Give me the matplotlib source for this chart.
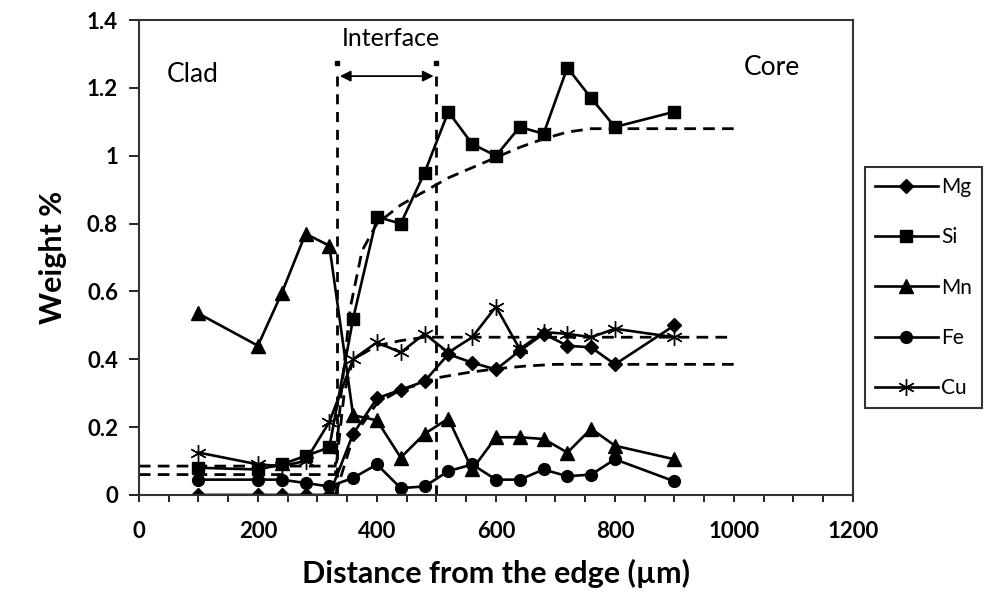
import numpy as np
import matplotlib.pyplot as plt
from matplotlib.ticker import MultipleLocator

plt.rcParams['font.family'] = ['Lato', 'DejaVu Sans']

# distance from the clad surface (um)
dist = [100, 200, 240, 280, 320, 360, 400, 440, 480, 520, 560, 600, 640, 680, 720, 760, 800, 900]

# measured concentrations, weight %
mg = [0.0, 0.0, 0.0, 0.0, 0.0, 0.18, 0.285, 0.31, 0.335, 0.415, 0.39, 0.37, 0.425, 0.475, 0.44, 0.435, 0.385, 0.50]
si = [0.08, 0.075, 0.09, 0.115, 0.14, 0.52, 0.82, 0.80, 0.95, 1.13, 1.035, 1.0, 1.085, 1.065, 1.26, 1.17, 1.085, 1.13]
mn = [0.535, 0.44, 0.595, 0.77, 0.735, 0.235, 0.22, 0.11, 0.18, 0.225, 0.075, 0.17, 0.17, 0.165, 0.125, 0.195, 0.145, 0.105]
fe = [0.045, 0.045, 0.045, 0.035, 0.025, 0.05, 0.09, 0.02, 0.025, 0.07, 0.09, 0.045, 0.045, 0.075, 0.055, 0.06, 0.105, 0.04]
cu = [0.125, 0.09, 0.085, 0.10, 0.215, 0.40, 0.45, 0.42, 0.475, 0.42, 0.465, 0.555, 0.43, 0.48, 0.475, 0.465, 0.49, 0.465]

# dashed profiles across the interface
si_fit_x = [0, 330, 340, 355, 375, 400, 440, 480, 520, 560, 600, 640, 680, 720, 760, 1000]
si_fit_y = [0.085, 0.085, 0.30, 0.55, 0.72, 0.80, 0.855, 0.895, 0.935, 0.965, 0.995, 1.025, 1.05, 1.07, 1.08, 1.08]
cu_fit_x = [0, 330, 345, 360, 400, 440, 480, 1000]
cu_fit_y = [0.06, 0.06, 0.30, 0.40, 0.44, 0.455, 0.465, 0.465]
mg_fit_x = [330, 360, 400, 440, 480, 500, 550, 600, 650, 700, 1000]
mg_fit_y = [0.0, 0.17, 0.27, 0.31, 0.33, 0.345, 0.36, 0.372, 0.38, 0.385, 0.385]

interface = [333, 500]

fig = plt.figure(figsize=(9.85, 6.11), dpi=100)
ax = fig.add_axes([0.141, 0.190, 0.725, 0.777])

dash = dict(color='k', lw=2, linestyle=(0, (4.2, 2.6)))
ax.plot(si_fit_x, si_fit_y, **dash)
ax.plot(cu_fit_x, cu_fit_y, **dash)
ax.plot(mg_fit_x, mg_fit_y, **dash)

# interface boundaries: dashed verticals with a dot on top
for xi in interface:
    ax.plot([xi, xi], [1.235, 0], color='k', lw=2, linestyle=(0, (3.6, 2.8)))
    ax.plot([xi], [1.275], marker='s', ms=2.5, color='k', ls='none')

ax.annotate('', xy=(interface[0], 1.235), xytext=(interface[1], 1.235),
            arrowprops=dict(arrowstyle='<|-|>', color='k', lw=1.3, mutation_scale=16))

line = dict(color='k', lw=1.9)
ax.plot(dist, mg, marker='D', ms=7.5, label='Mg', **line)
ax.plot(dist, si, marker='s', ms=8.5, label='Si', **line)
ax.plot(dist, mn, marker='^', ms=10, label='Mn', **line)
ax.plot(dist, fe, marker='o', ms=8.5, label='Fe', **line)
ax.plot(dist, cu, marker=(6, 2, 0), ms=12, mew=1.0, label='Cu', **line)

ax.text(91, 1.24, 'Clad', fontsize=19, ha='center', va='center')
ax.text(1064, 1.26, 'Core', fontsize=19, ha='center', va='center')
ax.text(424, 1.345, 'Interface', fontsize=18, ha='center', va='center')

ax.set_xlim(0, 1200)
ax.set_ylim(0, 1.4)
ax.xaxis.set_major_locator(MultipleLocator(200))
ax.xaxis.set_minor_locator(MultipleLocator(50))
ax.set_yticks(np.arange(0, 1.41, 0.2))
ax.set_yticklabels(['0', '0.2', '0.4', '0.6', '0.8', '1', '1.2', '1.4'])
ax.tick_params(axis='both', which='both', direction='out', width=1.2, color='k')
ax.tick_params(axis='y', length=7, pad=8)
ax.tick_params(axis='x', which='both', length=5, pad=14)
for lab in ax.get_xticklabels() + ax.get_yticklabels():
    lab.set_fontsize(16)
    lab.set_fontweight('bold')
for sp in ax.spines.values():
    sp.set_linewidth(1.5)
    sp.set_color('#333333')

ax.set_xlabel('Distance from the edge (µm)', fontsize=22, fontweight='bold', labelpad=12)
ax.set_ylabel('Weight %', fontsize=22, fontweight='bold', labelpad=14)

leg = fig.legend(loc='upper left', bbox_to_anchor=(0.878, 0.727), frameon=True, fancybox=False,
                 edgecolor='k', fontsize=15, handlelength=3.0, handletextpad=0.15,
                 labelspacing=1.45, borderpad=0.5, numpoints=1, borderaxespad=0)
leg.get_frame().set_linewidth(1.5)

fig.savefig('out.png', dpi=100)
